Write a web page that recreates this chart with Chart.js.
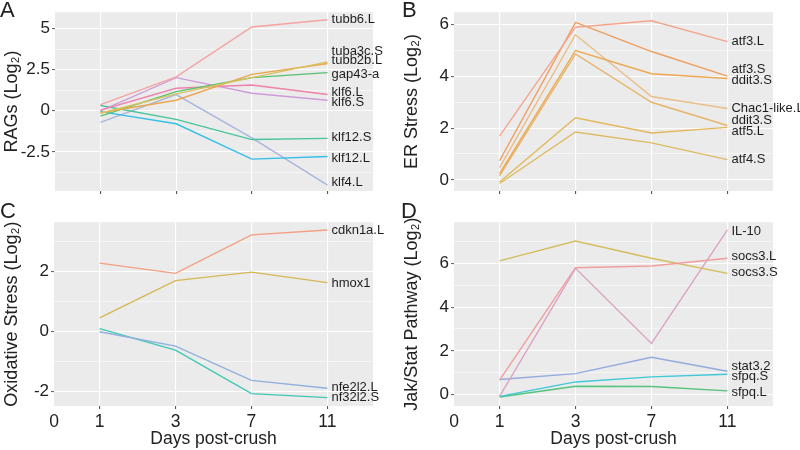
<!DOCTYPE html>
<html>
<head>
<meta charset="utf-8">
<script src="https://cdn.jsdelivr.net/npm/chart.js@4.4.1/dist/chart.umd.min.js"></script>
<style>
  body { margin: 0; background: #fff; }
  #wrap { position: relative; width: 800px; height: 450px; overflow: hidden; }
  canvas { position: absolute; }
  .tag { position: absolute; font: 22px "Liberation Sans", Arial, sans-serif; color: #222; }
</style>
</head>
<body>
<div id="wrap">
  <canvas id="panelA" width="400" height="210" style="left:0;top:0"></canvas>
  <canvas id="panelB" width="400" height="210" style="left:400px;top:0"></canvas>
  <canvas id="panelC" width="400" height="240" style="left:0;top:210px"></canvas>
  <canvas id="panelD" width="400" height="240" style="left:400px;top:210px"></canvas>
  <div class="tag" style="left:0;top:-3px">A</div>
  <div class="tag" style="left:402px;top:-3px">B</div>
  <div class="tag" style="left:0;top:198px">C</div>
  <div class="tag" style="left:401px;top:198px">D</div>
</div>
<script>
// x axis: days post-crush, drawn on evenly spaced positions
const days = [1, 3, 7, 11];
const xTickLabels = ["0", "1", "3", "7", "11"];

// A - RAGs
const ragNames = ["tubb6.L", "tuba3c.S", "tubb2b.L", "gap43-a", "klf6.L", "klf6.S", "klf12.S", "klf12.L", "klf4.L"];
const ragValues = [
    [0.38, 2.06, 5.10, 5.54],
    [-0.15, 1.03, 2.02, 2.98],
    [-0.12, 0.64, 2.22, 2.88],
    [-0.32, 1.17, 2.02, 2.32],
    [0.04, 1.37, 1.57, 0.99],
    [0.00, 2.02, 1.07, 0.64],
    [0.32, -0.52, -1.75, -1.68],
    [-0.05, -0.79, -2.94, -2.78],
    [-0.70, 0.99, -1.65, -4.52]
];
const ragLabelY = [5.54, 3.61, 3.04, 2.22, 1.13, 0.49, -1.65, -2.88, -4.33];
const ragColors = ["#F4A3A0", "#D8C25E", "#EAA64E", "#58C072", "#EE82AA", "#CE9CD8", "#47C59C", "#35BFE8", "#A9B5DD"];

// B - ER stress
const erNames = ["atf3.L", "atf3.S", "ddit3.S", "Chac1-like.L", "ddit3.S", "atf5.L", "atf4.S"];
const erValues = [
    [1.69, 5.90, 6.15, 5.34],
    [0.74, 6.09, 4.96, 4.01],
    [0.24, 5.00, 4.10, 3.92],
    [0.47, 5.61, 3.22, 2.76],
    [0.15, 4.87, 3.00, 2.10],
    [-0.08, 2.40, 1.81, 2.03],
    [-0.14, 1.85, 1.43, 0.78]
];
const erLabelY = [5.34, 4.26, 3.85, 2.76, 2.28, 1.88, 0.78];
const erColors = ["#F3A68C", "#F09E5E", "#EDA852", "#EABD8A", "#E6B56C", "#E2B85A", "#DDBB62"];

// C - oxidative stress
const oxNames = ["cdkn1a.L", "hmox1", "nfe2l2.L", "nf32l2.S"];
const oxValues = [
    [2.27, 1.93, 3.21, 3.37],
    [0.45, 1.69, 1.97, 1.62],
    [-0.01, -0.49, -1.63, -1.89],
    [0.09, -0.62, -2.07, -2.20]
];
const oxLabelY = [3.37, 1.60, -1.85, -2.20];
const oxColors = ["#F49E82", "#D5B854", "#90B0DD", "#3FC8B0"];

// D - Jak/Stat pathway
const jakNames = ["IL-10", "socs3.L", "socs3.S", "stat3.2", "sfpq.S", "sfpq.L"];
const jakValues = [
    [-0.08, 5.77, 2.34, 7.53],
    [0.66, 5.80, 5.88, 6.23],
    [6.11, 7.02, 6.23, 5.54],
    [0.69, 0.96, 1.71, 1.07],
    [-0.08, 0.58, 0.81, 0.93],
    [-0.11, 0.38, 0.37, 0.17]
];
const jakLabelY = [7.48, 6.30, 5.57, 1.30, 0.81, 0.12];
const jakColors = ["#D9A5C2", "#F29D9D", "#D4BD5C", "#93AADF", "#3FC8D6", "#55C37C"];

const FONT = '"Liberation Sans", Arial, sans-serif';

const panelBackground = {
    id: "panelBackground",
    beforeDraw(chart) {
        const a = chart.chartArea;
        const ctx = chart.ctx;
        ctx.save();
        ctx.fillStyle = "#EBEBEB";
        ctx.fillRect(a.left, a.top, a.right - a.left, a.bottom - a.top);
        ctx.restore();
    }
};

const endLabels = {
    id: "endLabels",
    afterDatasetsDraw(chart, args, opts) {
        const ctx = chart.ctx;
        const xs = chart.scales.x, ys = chart.scales.y;
        ctx.save();
        ctx.font = "13px " + FONT;
        ctx.fillStyle = "#1e1e1e";
        ctx.textBaseline = "middle";
        opts.names.forEach((name, i) => {
            ctx.fillText(name, xs.getPixelForValue(days.length - 1) + 4, ys.getPixelForValue(opts.labelY[i]));
        });
        ctx.restore();
    }
};

function makePanel(id, opt) {
    const datasets = opt.values.map((vals, i) => ({
        label: opt.names[i],
        data: vals.map((v, j) => ({ x: j, y: v })),
        borderColor: opt.colors[i],
        borderWidth: 1.4,
        pointRadius: 0,
        tension: 0,
        fill: false
    }));
    const bottomRow = opt.bottom;
    const isMajor = v => Math.abs(v / opt.major - Math.round(v / opt.major)) < 1e-6;

    new Chart(document.getElementById(id), {
        type: "line",
        data: { datasets },
        options: {
            responsive: false,
            animation: false,
            events: [],
            layout: { padding: { top: bottomRow ? 12 : 8, right: 27, left: 0, bottom: 0 } },
            plugins: {
                legend: { display: false },
                tooltip: { enabled: false },
                endLabels: { names: opt.names, labelY: opt.labelY }
            },
            scales: {
                x: {
                    type: "linear",
                    min: -0.6,
                    max: days.length - 0.4,
                    afterBuildTicks: s => { s.ticks = [-0.6, 0, 1, 2, 3].map(v => ({ value: v })); },
                    afterFit: s => { s.height = bottomRow ? 44 : 19; },
                    border: { display: false },
                    grid: {
                        color: c => c.tick && c.tick.value < 0 ? "rgba(0,0,0,0)" : "#ffffff",
                        lineWidth: 1.1,
                        tickLength: 3,
                        tickColor: c => c.tick && c.tick.value < 0 ? "rgba(0,0,0,0)" : "#555"
                    },
                    ticks: {
                        display: bottomRow,
                        padding: 3,
                        maxRotation: 0,
                        autoSkip: false,
                        color: "#222",
                        font: { family: FONT, size: 17.5 },
                        callback: (v, i) => xTickLabels[i]
                    },
                    title: {
                        display: bottomRow,
                        text: "Days post-crush",
                        color: "#222",
                        padding: { top: 0, bottom: 0 },
                        font: { family: FONT, size: 17.5 }
                    }
                },
                y: {
                    min: opt.min,
                    max: opt.max,
                    afterBuildTicks: s => {
                        const t = [];
                        const step = opt.major / 2;
                        for (let v = Math.ceil(opt.min / step) * step; v <= opt.max + 1e-9; v += step) {
                            t.push({ value: Math.round(v * 1000) / 1000 });
                        }
                        s.ticks = t;
                    },
                    afterFit: s => { s.width = opt.left; },
                    border: { display: false },
                    grid: {
                        color: "#ffffff",
                        lineWidth: c => c.tick && isMajor(c.tick.value) ? 1.1 : 0.55,
                        tickLength: 3,
                        tickColor: c => c.tick && isMajor(c.tick.value) ? "#666" : "rgba(0,0,0,0)"
                    },
                    ticks: {
                        padding: 2,
                        autoSkip: false,
                        color: "#222",
                        font: { family: FONT, size: 17 },
                        callback: v => isMajor(v) ? String(v) : ""
                    },
                    title: {
                        display: true,
                        text: opt.title,
                        color: "#222",
                        padding: { top: 1, bottom: 0 },
                        font: { family: FONT, size: 18 }
                    }
                }
            }
        },
        plugins: [panelBackground, endLabels]
    });
}

makePanel("panelA", { names: ragNames, values: ragValues, labelY: ragLabelY, colors: ragColors,
    min: -4.88, max: 6.0, major: 2.5, left: 55, bottom: false, title: "RAGs (Log\u2082)" });
makePanel("panelB", { names: erNames, values: erValues, labelY: erLabelY, colors: erColors,
    min: -0.43, max: 6.48, major: 2, left: 54, bottom: false, title: "ER Stress (Log\u2082)" });
makePanel("panelC", { names: oxNames, values: oxValues, labelY: oxLabelY, colors: oxColors,
    min: -2.48, max: 3.63, major: 2, left: 54, bottom: true, title: "Oxidative Stress (Log\u2082)" });
makePanel("panelD", { names: jakNames, values: jakValues, labelY: jakLabelY, colors: jakColors,
    min: -0.52, max: 7.88, major: 2, left: 54, bottom: true, title: "Jak/Stat Pathway (Log\u2082)" });
</script>
</body>
</html>
